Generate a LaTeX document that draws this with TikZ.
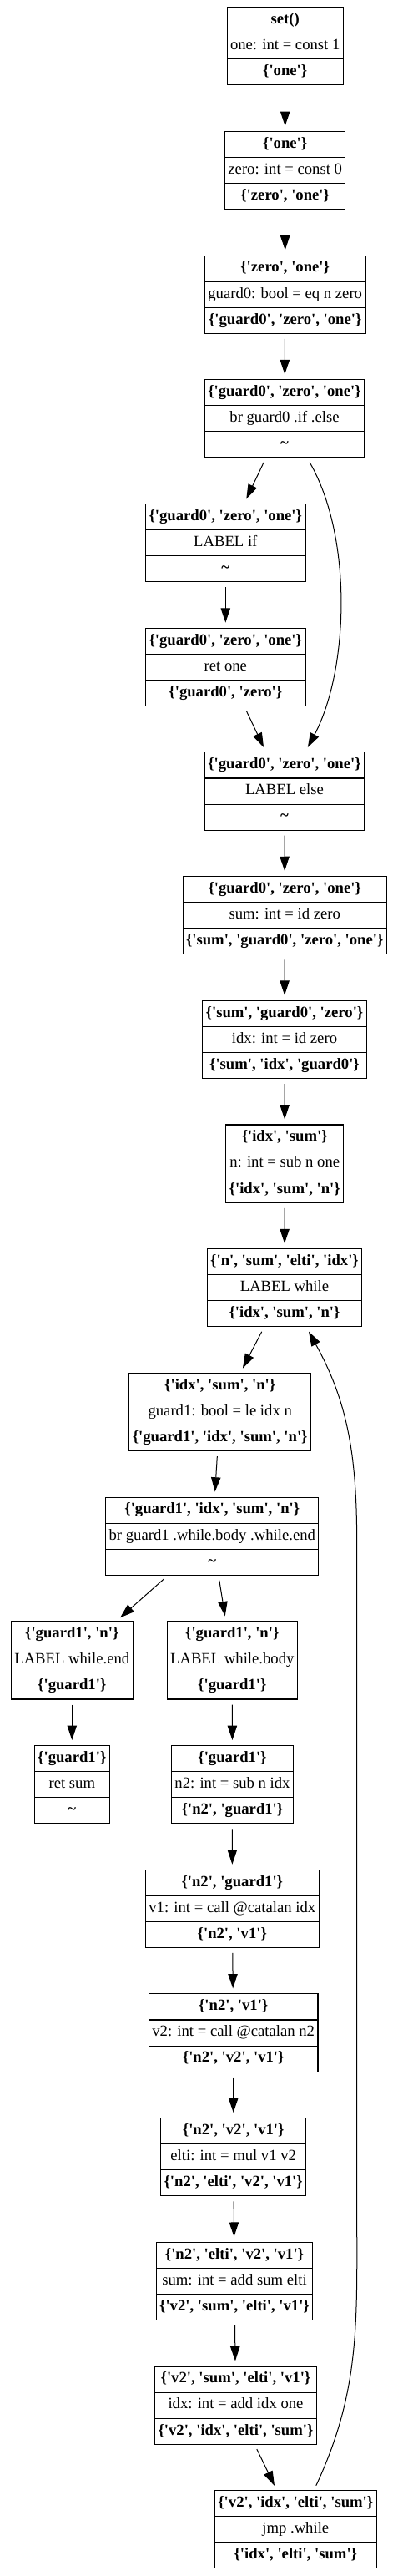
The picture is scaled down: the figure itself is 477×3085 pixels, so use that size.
\documentclass[tikz,border=0pt]{standalone}
\usepackage{fontspec}
\setmainfont{Liberation Serif}[Ligatures=TeXOff]
\usepackage{tikz}
\usetikzlibrary{shapes.multipart}
\usetikzlibrary{arrows.meta}

\newcommand{\rs}{\rule[-8pt]{0pt}{22.5pt}}
\newcommand{\rec}[3]{\rs\textbf{#1}\nodepart{two}\rs #2\nodepart{three}\rs\textbf{#3}}
\newcommand{\tl}{\textasciitilde}

\tikzset{
  blk/.style={rectangle split, rectangle split parts=3, draw, line width=0.8pt,
    inner xsep=3pt, inner ysep=0pt, font=\fontsize{14}{16}\selectfont},
  flow/.style={-{Triangle[length=13pt,width=8.5pt]}, line width=0.75pt,
    shorten <=4.5pt, shorten >=4.5pt}
}

\begin{document}
\begin{tikzpicture}[x=0.75pt,y=0.75pt]
    \useasboundingbox (0,0) rectangle (477,-3085);

    \node[blk] (set)    at (341.7, -55.3)  {\rec{set()}{one: int = const 1}{\{'one'\}}};
    \node[blk] (one)    at (341.7, -204.0) {\rec{\{'one'\}}{zero: int = const 0}{\{'zero', 'one'\}}};
    \node[blk] (zero)   at (341.7, -352.7) {\rec{\{'zero', 'one'\}}{guard0: bool = eq n zero}{\{'guard0', 'zero', 'one'\}}};
    \node[blk] (brz)    at (341.0, -501.4) {\rec{\{'guard0', 'zero', 'one'\}}{br guard0 .if .else}{\tl}};
    \node[blk] (lif)    at (270.3, -650.1) {\rec{\{'guard0', 'zero', 'one'\}}{LABEL if}{\tl}};
    \node[blk] (retone) at (270.3, -798.8) {\rec{\{'guard0', 'zero', 'one'\}}{ret one}{\{'guard0', 'zero'\}}};
    \node[blk] (lelse)  at (341.0, -947.5) {\rec{\{'guard0', 'zero', 'one'\}}{LABEL else}{\tl}};
    \node[blk] (sum)    at (341.2, -1096.2) {\rec{\{'guard0', 'zero', 'one'\}}{sum: int = id zero}{\{'sum', 'guard0', 'zero', 'one'\}}};
    \node[blk] (idx)    at (341.0, -1244.9) {\rec{\{'sum', 'guard0', 'zero'\}}{idx: int = id zero}{\{'sum', 'idx', 'guard0'\}}};
    \node[blk] (subn)   at (341.2, -1393.6) {\rec{\{'idx', 'sum'\}}{n: int = sub n one}{\{'idx', 'sum', 'n'\}}};
    \node[blk] (lwhile) at (341.0, -1542.3) {\rec{\{'n', 'sum', 'elti', 'idx'\}}{LABEL while}{\{'idx', 'sum', 'n'\}}};
    \node[blk] (guard)  at (263.7, -1691.0) {\rec{\{'idx', 'sum', 'n'\}}{guard1: bool = le idx n}{\{'guard1', 'idx', 'sum', 'n'\}}};
    \node[blk] (brw)    at (254.3, -1839.7) {\rec{\{'guard1', 'idx', 'sum', 'n'\}}{br guard1 .while.body .while.end}{\tl}};
    \node[blk] (lend)   at (86.3, -1988.4)  {\rec{\{'guard1', 'n'\}}{LABEL while.end}{\{'guard1'\}}};
    \node[blk] (lbody)  at (278.3, -1988.4) {\rec{\{'guard1', 'n'\}}{LABEL while.body}{\{'guard1'\}}};
    \node[blk] (retsum) at (86.3, -2137.1)  {\rec{\{'guard1'\}}{ret sum}{\tl}};
    \node[blk] (ntwo)   at (278.5, -2137.1) {\rec{\{'guard1'\}}{n2: int = sub n idx}{\{'n2', 'guard1'\}}};
    \node[blk] (vone)   at (278.3, -2285.8) {\rec{\{'n2', 'guard1'\}}{v1: int = call @catalan idx}{\{'n2', 'v1'\}}};
    \node[blk] (vtwo)   at (279.7, -2434.5) {\rec{\{'n2', 'v1'\}}{v2: int = call @catalan n2}{\{'n2', 'v2', 'v1'\}}};
    \node[blk] (elti)   at (279.7, -2583.2) {\rec{\{'n2', 'v2', 'v1'\}}{elti: int = mul v1 v2}{\{'n2', 'elti', 'v2', 'v1'\}}};
    \node[blk] (addsum) at (281.0, -2731.9) {\rec{\{'n2', 'elti', 'v2', 'v1'\}}{sum: int = add sum elti}{\{'v2', 'sum', 'elti', 'v1'\}}};
    \node[blk] (addidx) at (282.5, -2880.6) {\rec{\{'v2', 'sum', 'elti', 'v1'\}}{idx: int = add idx one}{\{'v2', 'idx', 'elti', 'sum'\}}};
    \node[blk] (jmp)    at (354.3, -3029.3) {\rec{\{'v2', 'idx', 'elti', 'sum'\}}{jmp .while}{\{'idx', 'elti', 'sum'\}}};

    \coordinate (bk1) at (427.7, -2650);
    \coordinate (bk2) at (427.7, -1850);

    \draw (set) edge[flow] (one);
    \draw (one) edge[flow] (zero);
    \draw (zero) edge[flow] (brz);
    \draw (brz) edge[flow] (lif);
    \draw (brz) edge[flow, out=-60, in=62, looseness=0.8] (lelse);
    \draw (lif) edge[flow] (retone);
    \draw (retone) edge[flow] (lelse);
    \draw (lelse) edge[flow] (sum);
    \draw (sum) edge[flow] (idx);
    \draw (idx) edge[flow] (subn);
    \draw (subn) edge[flow] (lwhile);
    \draw (lwhile) edge[flow] (guard);
    \draw (guard) edge[flow] (brw);
    \draw (brw) edge[flow] (lend);
    \draw (brw) edge[flow] (lbody);
    \draw (lend) edge[flow] (retsum);
    \draw (lbody) edge[flow] (ntwo);
    \draw (ntwo) edge[flow] (vone);
    \draw (vone) edge[flow] (vtwo);
    \draw (vtwo) edge[flow] (elti);
    \draw (elti) edge[flow] (addsum);
    \draw (addsum) edge[flow] (addidx);
    \draw (addidx) edge[flow] (jmp);
    \draw[flow] (jmp) to[out=65, in=-90] (bk1) -- (bk2) to[out=90, in=-61] (lwhile);
  \end{tikzpicture}
\end{document}
